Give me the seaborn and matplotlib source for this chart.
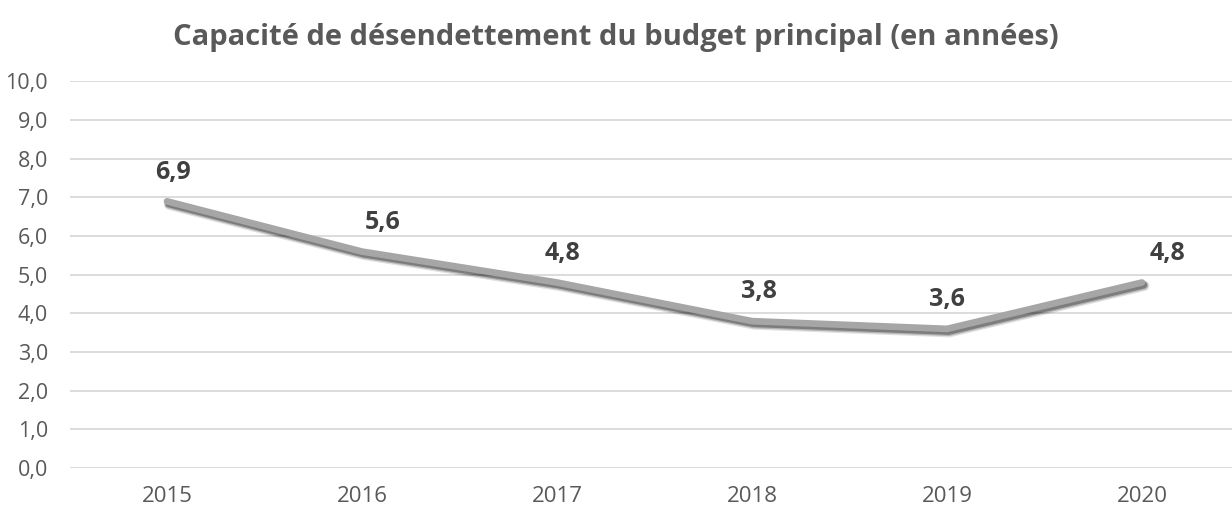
import matplotlib
matplotlib.use("Agg")
import matplotlib.pyplot as plt
import matplotlib.patheffects as pe
import seaborn as sns
import pandas as pd

years = ["2015", "2016", "2017", "2018", "2019", "2020"]
values = [6.9, 5.6, 4.8, 3.8, 3.6, 4.8]
labels = ["6,9", "5,6", "4,8", "3,8", "3,6", "4,8"]
yticks = [0, 1, 2, 3, 4, 5, 6, 7, 8, 9, 10]
title = "Capacité de désendettement du budget principal (en années)"

# label nudges (points), styling only
label_dx = [4, 15, 4, 5, 0, 18]

sns.set_theme(style="white")
plt.rcParams['font.family'] = ['Open Sans', 'DejaVu Sans']

df = pd.DataFrame({"year": years, "value": values, "x": range(len(years))})

W, H = 1232, 511
fig = plt.figure(figsize=(W / 100, H / 100), dpi=100)
ax = fig.add_axes([69.5 / W, 1 - 468 / H, 1170 / W, (468 - 81.5) / H])

shadow = [pe.SimpleLineShadow(offset=(1.6, -2.4), shadow_color="#000000", alpha=0.12, linewidth=7.5),
          pe.SimpleLineShadow(offset=(1.4, -2.1), shadow_color="#000000", alpha=0.2, linewidth=6.2),
          pe.SimpleLineShadow(offset=(1.2, -1.8), shadow_color="#000000", alpha=0.3, linewidth=5.0)]

sns.lineplot(data=df, x="x", y="value", ax=ax, color="#a6a6a6", linewidth=4.8,
             solid_capstyle="round", solid_joinstyle="round",
             path_effects=shadow + [pe.Normal()])

ax.set_xlim(-0.5, len(years) - 0.5)
ax.set_ylim(0, 10)
ax.set_yticks(yticks)
ax.set_yticklabels([f"{v:.1f}".replace(".", ",") for v in yticks], fontsize=15.5, color="#595959")
ax.set_xticks(range(len(years)))
ax.set_xticklabels(years, fontsize=16, color="#595959")
ax.tick_params(axis="both", length=0)
ax.tick_params(axis="y", pad=15.5)
ax.tick_params(axis="x", pad=13)
ax.yaxis.grid(True, color="#d9d9d9", linewidth=1.3)
ax.set_axisbelow(True)
for s in ax.spines.values():
    s.set_visible(False)
ax.set_xlabel("")
ax.set_ylabel("")

for i, (v, lab) in enumerate(zip(values, labels)):
    ax.annotate(lab, (i, v), xytext=(label_dx[i], 12), textcoords="offset points",
                ha="center", va="bottom", fontsize=18, fontweight="bold", color="#404040")

fig.text(616 / W, 1 - 37 / H, title, ha="center", va="center", fontsize=21,
         fontweight="bold", color="#595959")

fig.savefig("out.png", dpi=100)
